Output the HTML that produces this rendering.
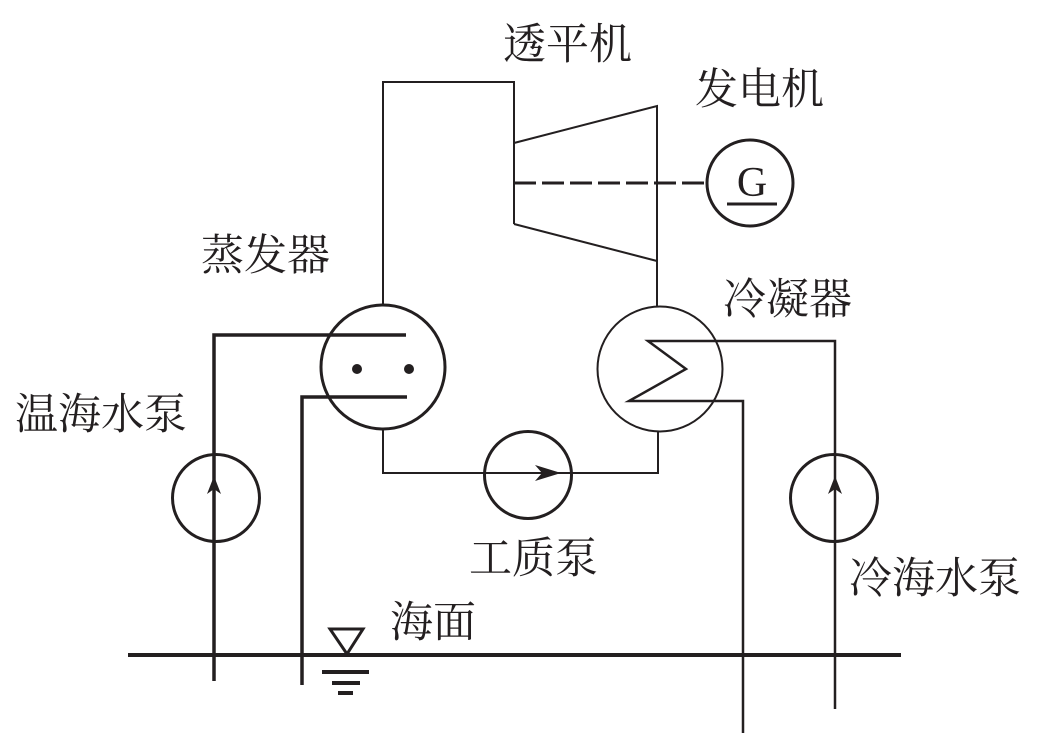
<!DOCTYPE html>
<html>
<head>
<meta charset="utf-8">
<style>
  html, body { margin: 0; padding: 0; background: #fff; }
  svg { display: block; }
  text { font-family: "Liberation Serif", "Noto Serif CJK SC", serif; fill: #231f20; }
</style>
</head>
<body>
<svg width="1041" height="754" viewBox="0 0 1041 754" xmlns="http://www.w3.org/2000/svg">
  <rect width="1041" height="754" fill="#fff"/>
  <g fill="none" stroke="#231f20" stroke-linejoin="miter" stroke-linecap="butt">
    <!-- evaporator -->
    <circle cx="383" cy="367" r="62" stroke-width="3"/>
    <path d="M214,681 V335 H406" stroke-width="3.5"/>
    <path d="M302,685 V397 H407" stroke-width="3.5"/>
    <!-- evaporator to turbine -->
    <path d="M383,305 V82 H514 V224" stroke-width="2"/>
    <!-- turbine -->
    <path d="M514,143 L657,106 V307" stroke-width="2"/>
    <path d="M514,224 L657,261" stroke-width="2"/>
    <!-- shaft -->
    <path d="M514,183 H707" stroke-width="3" stroke-dasharray="22 6"/>
    <!-- generator -->
    <circle cx="750" cy="183" r="43" stroke-width="3"/>
    <path d="M727,204 H777" stroke-width="3"/>
    <!-- condenser -->
    <circle cx="660" cy="369" r="62.5" stroke-width="2"/>
    <path d="M835,709 V341 H648 L686,369 L629,401 H743 V733" stroke-width="2.5"/>
    <!-- working pump line -->
    <path d="M383,429 V473 H658 V432" stroke-width="2"/>
    <circle cx="528" cy="475" r="43.5" stroke-width="3"/>
    <!-- warm pump -->
    <circle cx="216" cy="498" r="43.5" stroke-width="3"/>
    <!-- cold pump -->
    <circle cx="834" cy="498" r="43.5" stroke-width="3"/>
    <!-- sea level -->
    <path d="M128,655 H901" stroke-width="4"/>
    <path d="M330,629 H363 L347,654 Z" stroke-width="3"/>
    <path d="M322,672 H369" stroke-width="4"/>
    <path d="M332,683 H360" stroke-width="4"/>
    <path d="M338,693 H353" stroke-width="4"/>
  </g>
  <!-- dots -->
  <circle cx="357" cy="369" r="5" fill="#231f20"/>
  <circle cx="409" cy="369" r="5" fill="#231f20"/>
  <!-- arrowheads -->
  <polygon points="561,473 535,465 542,473 535,481" fill="#231f20"/>
  <polygon points="214,476 207,494 214,489 221,494" fill="#231f20"/>
  <polygon points="835,476 828,494 835,489 842,494" fill="#231f20"/>
  <!-- G -->
  <text x="752" y="196" font-size="42" text-anchor="middle">G</text>
  <!-- labels -->
  <g font-size="43">
    <text x="503" y="59">透平机</text>
    <text x="695" y="104">发电机</text>
    <text x="201" y="270">蒸发器</text>
    <text x="723" y="314">冷凝器</text>
    <text x="15" y="429">温海水泵</text>
    <text x="469" y="573">工质泵</text>
    <text x="849" y="593">冷海水泵</text>
    <text x="390" y="637">海面</text>
  </g>
</svg>
</body>
</html>
